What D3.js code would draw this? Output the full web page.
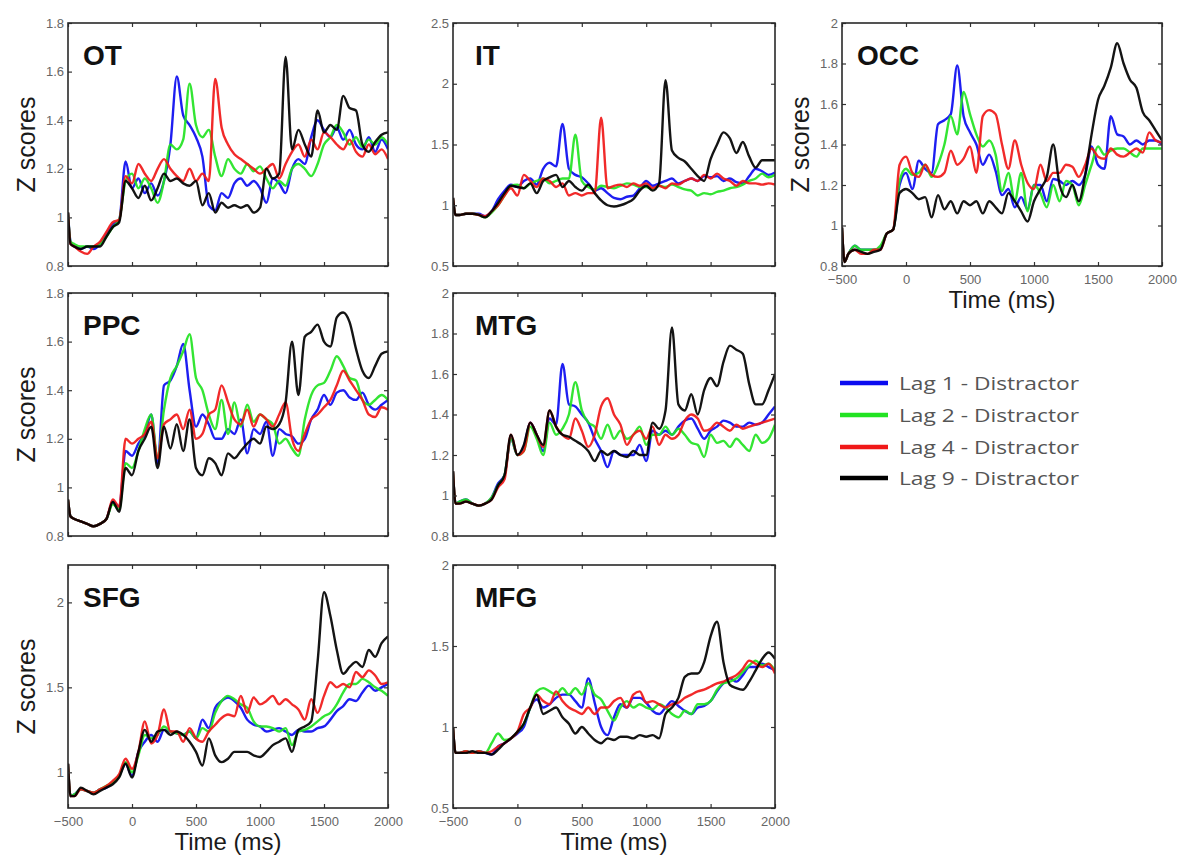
<!DOCTYPE html>
<html><head><meta charset="utf-8">
<script src="https://cdn.jsdelivr.net/npm/d3@7"></script>
<style>
html,body{margin:0;padding:0;background:#fff;}
svg{display:block;}
</style></head>
<body>
<svg id="chart" width="1184" height="855"></svg>
<script>
// ---------- DATA ----------
const timeMs = [-500,-480,-450,-400,-350,-300,-250,-200,-150,-100,-50,0,50,100,150,200,250,300,350,400,450,500,550,600,650,700,750,800,850,900,950,1000,1050,1100,1150,1200,1250,1300,1350,1400,1450,1500,1550,1600,1650,1700,1750,1800,1850,1900,1950,2000];
const xTicks = [-500,0,500,1000,1500,2000];
const seriesNames = ["Lag 1 - Distractor","Lag 2 - Distractor","Lag 4 - Distractor","Lag 9 - Distractor"];
const regionNames = ["OT","IT","OCC","PPC","MTG","SFG","MFG"];

// OT
const otLag1 = [1.02,0.9, 0.88,0.87,0.88,0.87,0.89,0.93,0.97,0.99,1.23,1.12, 1.16,1.1,1.14,1.09,1.15,1.3,1.58,1.42,1.38,1.33, 1.25,1.05,1.03,1.1,1.08,1.14,1.16,1.13,1.15,1.12, 1.06,1.16,1.14,1.1,1.2,1.24,1.22,1.33,1.4,1.36, 1.33,1.37,1.32,1.36,1.3,1.28,1.33,1.27,1.32,1.28];
const otLag2 = [1.02,0.9, 0.89,0.88,0.88,0.88,0.89,0.92,0.96,0.99,1.15,1.18, 1.12,1.16,1.12,1.06,1.15,1.3,1.28,1.32,1.55,1.38, 1.33,1.36,1.25,1.17,1.24,1.2,1.18,1.22,1.19,1.21, 1.16,1.12,1.15,1.13,1.2,1.22,1.2,1.17,1.22,1.3, 1.33,1.38,1.35,1.3,1.33,1.29,1.32,1.3,1.33,1.3];
const otLag4 = [1.02,0.89, 0.88,0.86,0.85,0.88,0.9,0.94,0.98,0.99,1.17,1.14, 1.22,1.18,1.15,1.2,1.24,1.2,1.17,1.15,1.2,1.15, 1.18,1.15,1.57,1.37,1.3,1.26,1.24,1.22,1.2,1.18, 1.2,1.22,1.16,1.22,1.27,1.3,1.25,1.32,1.28,1.35, 1.33,1.3,1.28,1.32,1.27,1.25,1.3,1.26,1.28,1.24];
const otLag9 = [1.02,0.89, 0.88,0.87,0.88,0.88,0.88,0.92,0.96,0.98,1.15,1.12, 1.08,1.13,1.07,1.12,1.18,1.15,1.16,1.14,1.13,1.15, 1.05,1.1,1.02,1.06,1.04,1.05,1.04,1.05,1.02,1.04, 1.2,1.16,1.18,1.66,1.28,1.36,1.3,1.25,1.44,1.35, 1.38,1.36,1.5,1.45,1.44,1.3,1.27,1.31,1.34,1.35];
// IT
const itLag1 = [1.06,0.92, 0.92,0.93,0.93,0.93,0.91,0.95,1.05,1.12,1.17,1.15, 1.2,1.22,1.17,1.3,1.35,1.32,1.67,1.3,1.25,1.23, 1.18,1.12,1.14,1.1,1.06,1.05,1.07,1.08,1.14,1.2, 1.16,1.18,1.2,1.22,1.18,1.2,1.22,1.2,1.24,1.23, 1.24,1.2,1.22,1.19,1.18,1.24,1.3,1.28,1.25,1.27];
const itLag2 = [1.06,0.92, 0.92,0.93,0.93,0.92,0.9,0.94,1.0,1.08,1.16,1.17, 1.14,1.18,1.2,1.22,1.18,1.2,1.22,1.22,1.58,1.2, 1.15,1.13,1.16,1.15,1.14,1.16,1.18,1.17,1.15,1.15, 1.13,1.16,1.15,1.17,1.15,1.13,1.12,1.08,1.1,1.09, 1.11,1.12,1.14,1.15,1.17,1.2,1.22,1.26,1.23,1.25];
const itLag4 = [1.06,0.92, 0.92,0.93,0.93,0.92,0.91,0.95,1.0,1.08,1.14,1.08, 1.25,1.2,1.15,1.22,1.2,1.15,1.18,1.08,1.1,1.08, 1.1,1.1,1.72,1.14,1.16,1.17,1.15,1.18,1.16,1.18, 1.14,1.16,1.14,1.18,1.17,1.2,1.22,1.2,1.25,1.22, 1.26,1.22,1.2,1.16,1.2,1.18,1.18,1.17,1.18,1.17];
const itLag9 = [1.06,0.92, 0.92,0.93,0.93,0.92,0.9,0.95,1.02,1.1,1.16,1.15, 1.14,1.18,1.1,1.2,1.23,1.25,1.15,1.2,1.15,1.12, 1.17,1.1,1.04,1.0,0.99,1.0,1.02,1.05,1.12,1.16, 1.12,1.18,2.03,1.45,1.39,1.36,1.3,1.24,1.2,1.38, 1.5,1.6,1.55,1.43,1.52,1.4,1.31,1.37,1.37,1.37];
// OCC
const occLag1 = [0.99,0.82, 0.86,0.9,0.88,0.88,0.88,0.89,0.96,0.98,1.2,1.26, 1.18,1.32,1.28,1.26,1.5,1.52,1.55,1.79,1.54,1.46, 1.4,1.3,1.35,1.27,1.15,1.18,1.09,1.14,1.08,1.2, 1.2,1.12,1.23,1.22,1.2,1.22,1.2,1.25,1.39,1.3, 1.28,1.54,1.45,1.44,1.4,1.42,1.4,1.42,1.42,1.4];
const occLag2 = [0.99,0.82, 0.86,0.9,0.88,0.88,0.88,0.9,0.96,0.98,1.22,1.28, 1.25,1.26,1.3,1.24,1.3,1.4,1.54,1.45,1.66,1.55, 1.45,1.39,1.42,1.35,1.17,1.26,1.12,1.26,1.07,1.2, 1.16,1.09,1.2,1.12,1.22,1.2,1.1,1.2,1.3,1.39, 1.35,1.37,1.38,1.38,1.36,1.34,1.38,1.38,1.38,1.38];
const occLag4 = [0.99,0.82, 0.86,0.88,0.86,0.86,0.88,0.88,0.96,0.98,1.3,1.34, 1.26,1.24,1.3,1.25,1.24,1.26,1.37,1.3,1.33,1.39, 1.26,1.54,1.57,1.55,1.4,1.28,1.42,1.3,1.21,1.18, 1.3,1.22,1.26,1.26,1.3,1.29,1.24,1.3,1.38,1.34, 1.33,1.38,1.35,1.34,1.36,1.38,1.36,1.46,1.42,1.41];
const occLag9 = [0.99,0.82, 0.86,0.88,0.87,0.86,0.87,0.88,0.96,0.98,1.16,1.18, 1.16,1.13,1.14,1.04,1.15,1.08,1.12,1.06,1.12,1.1, 1.12,1.06,1.12,1.09,1.06,1.16,1.12,1.07,1.02,1.12, 1.18,1.24,1.4,1.2,1.14,1.2,1.12,1.25,1.45,1.62, 1.69,1.78,1.9,1.8,1.72,1.68,1.56,1.52,1.47,1.42];
// PPC
const ppcLag1 = [0.95,0.88, 0.87,0.86,0.85,0.84,0.85,0.87,0.94,0.92,1.15,1.13, 1.18,1.22,1.3,1.1,1.42,1.44,1.5,1.59,1.4,1.25, 1.3,1.26,1.2,1.2,1.24,1.22,1.28,1.14,1.24,1.22, 1.27,1.13,1.24,1.22,1.21,1.18,1.2,1.28,1.32,1.38, 1.34,1.39,1.4,1.37,1.36,1.39,1.34,1.32,1.34,1.36];
const ppcLag2 = [0.95,0.88, 0.87,0.86,0.85,0.84,0.85,0.87,0.93,0.91,1.1,1.08, 1.15,1.24,1.3,1.12,1.32,1.45,1.5,1.56,1.63,1.45, 1.4,1.3,1.24,1.36,1.22,1.35,1.25,1.34,1.27,1.3, 1.28,1.26,1.18,1.2,1.16,1.13,1.28,1.38,1.42,1.43, 1.48,1.54,1.5,1.45,1.44,1.36,1.34,1.36,1.38,1.36];
const ppcLag4 = [0.95,0.88, 0.87,0.86,0.85,0.84,0.85,0.87,0.95,0.92,1.2,1.18, 1.2,1.22,1.27,1.12,1.26,1.28,1.3,1.24,1.32,1.2, 1.22,1.3,1.32,1.42,1.35,1.28,1.26,1.32,1.25,1.3, 1.28,1.25,1.3,1.35,1.2,1.15,1.22,1.28,1.3,1.33, 1.36,1.42,1.48,1.44,1.4,1.36,1.3,1.29,1.33,1.32];
const ppcLag9 = [0.95,0.88, 0.87,0.86,0.85,0.84,0.85,0.87,0.94,0.9,1.08,1.05, 1.15,1.2,1.25,1.08,1.25,1.16,1.26,1.15,1.28,1.08, 1.05,1.12,1.1,1.05,1.14,1.12,1.15,1.18,1.2,1.18, 1.25,1.24,1.26,1.35,1.6,1.38,1.62,1.64,1.67,1.6, 1.58,1.7,1.72,1.68,1.57,1.48,1.45,1.5,1.55,1.56];
// MTG
const mtgLag1 = [1.12,0.96, 0.97,0.98,0.96,0.95,0.96,0.99,1.06,1.1,1.28,1.2, 1.24,1.36,1.3,1.22,1.38,1.35,1.65,1.45,1.44,1.4, 1.36,1.28,1.22,1.14,1.22,1.2,1.2,1.2,1.25,1.17, 1.32,1.3,1.32,1.3,1.34,1.37,1.38,1.33,1.28,1.32, 1.34,1.37,1.36,1.34,1.34,1.36,1.35,1.36,1.4,1.44];
const mtgLag2 = [1.12,0.96, 0.97,0.98,0.96,0.95,0.96,0.99,1.05,1.1,1.28,1.2, 1.22,1.34,1.28,1.2,1.36,1.3,1.33,1.4,1.56,1.42, 1.36,1.34,1.28,1.35,1.28,1.32,1.28,1.3,1.34,1.25, 1.3,1.3,1.34,1.3,1.33,1.3,1.26,1.25,1.19,1.3, 1.26,1.27,1.24,1.28,1.25,1.22,1.3,1.26,1.28,1.35];
const mtgLag4 = [1.12,0.96, 0.96,0.97,0.96,0.95,0.96,0.98,1.04,1.08,1.3,1.2, 1.22,1.36,1.3,1.24,1.42,1.34,1.3,1.28,1.38,1.32, 1.24,1.3,1.44,1.48,1.4,1.35,1.25,1.3,1.32,1.28, 1.34,1.25,1.3,1.28,1.3,1.37,1.4,1.38,1.32,1.33, 1.36,1.34,1.32,1.35,1.33,1.34,1.35,1.36,1.37,1.38];
const mtgLag9 = [1.12,0.96, 0.96,0.97,0.96,0.95,0.96,0.98,1.05,1.1,1.3,1.2, 1.25,1.36,1.3,1.25,1.42,1.34,1.3,1.29,1.27,1.25, 1.22,1.17,1.22,1.2,1.22,1.2,1.19,1.22,1.2,1.2, 1.36,1.33,1.42,1.83,1.45,1.42,1.5,1.4,1.52,1.58, 1.54,1.66,1.74,1.72,1.7,1.55,1.45,1.45,1.52,1.6];
// SFG
const sfgLag1 = [1.05,0.86, 0.87,0.9,0.89,0.88,0.9,0.91,0.94,0.98,1.05,0.98, 1.12,1.18,1.22,1.18,1.25,1.24,1.23,1.22,1.24,1.2, 1.31,1.26,1.38,1.42,1.44,1.42,1.38,1.31,1.28,1.27, 1.24,1.25,1.26,1.24,1.22,1.25,1.24,1.24,1.26,1.27, 1.31,1.36,1.39,1.43,1.42,1.47,1.51,1.48,1.5,1.52];
const sfgLag2 = [1.05,0.86, 0.87,0.9,0.89,0.88,0.9,0.92,0.94,0.98,1.06,1.0, 1.1,1.22,1.2,1.22,1.27,1.24,1.23,1.22,1.24,1.2, 1.26,1.24,1.35,1.42,1.45,1.43,1.4,1.38,1.3,1.27, 1.27,1.26,1.24,1.26,1.16,1.24,1.25,1.27,1.3,1.33, 1.35,1.4,1.47,1.52,1.52,1.55,1.53,1.5,1.48,1.45];
const sfgLag4 = [1.05,0.86, 0.86,0.9,0.89,0.88,0.9,0.92,0.95,0.99,1.08,1.02, 1.12,1.3,1.17,1.22,1.37,1.24,1.24,1.18,1.26,1.2, 1.18,1.24,1.28,1.32,1.34,1.33,1.45,1.35,1.44,1.4, 1.42,1.45,1.4,1.43,1.4,1.37,1.31,1.43,1.35,1.45, 1.53,1.5,1.52,1.5,1.59,1.56,1.6,1.57,1.52,1.53];
const sfgLag9 = [1.05,0.86, 0.86,0.91,0.89,0.87,0.89,0.91,0.93,0.97,1.05,0.97, 1.12,1.25,1.18,1.24,1.25,1.22,1.24,1.22,1.18,1.12, 1.04,1.2,1.1,1.06,1.08,1.12,1.12,1.12,1.1,1.09, 1.12,1.16,1.18,1.2,1.12,1.25,1.27,1.3,1.65,2.06, 1.92,1.72,1.58,1.62,1.65,1.62,1.72,1.68,1.76,1.8];
// MFG
const mfgLag1 = [1.0,0.84, 0.84,0.85,0.84,0.85,0.84,0.83,0.88,0.9,0.93,0.96, 1.0,1.12,1.17,1.12,1.14,1.18,1.2,1.2,1.16,1.12, 1.3,1.15,1.0,0.95,1.06,1.14,1.12,1.18,1.18,1.15, 1.1,1.08,1.12,1.16,1.13,1.1,1.08,1.12,1.13,1.16, 1.22,1.27,1.3,1.28,1.32,1.37,1.37,1.39,1.37,1.35];
const mfgLag2 = [1.0,0.84, 0.84,0.85,0.84,0.85,0.84,0.9,0.96,0.92,0.93,0.97, 1.02,1.12,1.22,1.24,1.22,1.2,1.24,1.2,1.24,1.2, 1.27,1.2,1.17,1.1,1.04,1.12,1.16,1.12,1.14,1.12, 1.11,1.14,1.12,1.08,1.06,1.1,1.08,1.14,1.14,1.16, 1.23,1.27,1.28,1.3,1.34,1.38,1.41,1.38,1.39,1.35];
const mfgLag4 = [1.0,0.84, 0.84,0.85,0.84,0.85,0.84,0.85,0.88,0.9,0.93,0.97, 1.08,1.12,1.2,1.16,1.14,1.22,1.16,1.12,1.1,1.08, 1.12,1.08,1.12,1.12,1.16,1.18,1.12,1.2,1.22,1.15, 1.16,1.14,1.12,1.14,1.15,1.18,1.2,1.22,1.23,1.25, 1.27,1.28,1.3,1.32,1.36,1.41,1.39,1.37,1.39,1.33];
const mfgLag9 = [1.0,0.84, 0.84,0.84,0.85,0.84,0.84,0.83,0.86,0.9,0.93,0.97, 1.02,1.12,1.2,1.08,1.1,1.12,1.06,1.02,0.96,1.0, 0.96,0.92,0.9,0.93,0.92,0.94,0.94,0.93,0.95,0.94, 0.95,0.93,1.08,1.12,1.18,1.31,1.33,1.33,1.4,1.56, 1.65,1.4,1.26,1.24,1.23,1.28,1.35,1.42,1.46,1.42];

// y axis domains and ticks per region
const yDomains = [[0.8,1.8],[0.5,2.5],[0.8,2],[0.8,1.8],[0.8,2],[0.79,2.22],[0.5,2]];
const yTicks = [
  [0.8,1,1.2,1.4,1.6,1.8],
  [0.5,1,1.5,2,2.5],
  [0.8,1,1.2,1.4,1.6,1.8,2],
  [0.8,1,1.2,1.4,1.6,1.8],
  [0.8,1,1.2,1.4,1.6,1.8,2],
  [1,1.5,2],
  [0.5,1,1.5,2]
];
const regionSeries = [
  [otLag1,otLag2,otLag4,otLag9],
  [itLag1,itLag2,itLag4,itLag9],
  [occLag1,occLag2,occLag4,occLag9],
  [ppcLag1,ppcLag2,ppcLag4,ppcLag9],
  [mtgLag1,mtgLag2,mtgLag4,mtgLag9],
  [sfgLag1,sfgLag2,sfgLag4,sfgLag9],
  [mfgLag1,mfgLag2,mfgLag4,mfgLag9]
];

// ---------- LAYOUT / STYLE ----------
const colors = ["#0b0bf0","#22e322","#f01818","#000000"];
const colX = [[68,388],[453,775],[842,1162]];
const rowY = [[23,266],[293,536],[565,808]];
const layout = [ // col,row,showXTicks,showYLabel,titleDx
  {c:0,r:0,xt:false,yl:true,tdx:15},
  {c:1,r:0,xt:false,yl:false,tdx:22},
  {c:2,r:0,xt:true,yl:true,tdx:15},
  {c:0,r:1,xt:false,yl:true,tdx:15},
  {c:1,r:1,xt:false,yl:false,tdx:22},
  {c:0,r:2,xt:true,yl:true,tdx:15},
  {c:1,r:2,xt:true,yl:false,tdx:22}
];

const svg = d3.select("#chart");
const fmt = d => String(+d.toFixed(2));
const FONT = "'Liberation Sans', Arial, Helvetica, sans-serif";

regionNames.forEach((name, k) => {
  const L = layout[k];
  const [x0,x1] = colX[L.c], [y0,y1] = rowY[L.r];
  const x = d3.scaleLinear().domain([-500,2000]).range([x0,x1]);
  const y = d3.scaleLinear().domain(yDomains[k]).range([y1,y0]);
  const g = svg.append("g");

  const clipId = "clip"+k;
  svg.append("clipPath").attr("id",clipId).append("rect")
    .attr("x",x0).attr("y",y0).attr("width",x1-x0).attr("height",y1-y0);

  // lines
  const line = d3.line().x((d,i)=>x(timeMs[i])).y(d=>y(d)).curve(d3.curveMonotoneX);
  const lg = g.append("g").attr("clip-path",`url(#${clipId})`);
  regionSeries[k].forEach((vals, s) => {
    lg.append("path").datum(vals).attr("d", line)
      .attr("fill","none").attr("stroke",colors[s]).attr("stroke-width",2.4)
      .attr("stroke-linejoin","round").attr("stroke-opacity",0.92);
  });

  // axes with inner ticks on all sides
  const tl = 4;
  const axB = d3.axisBottom(x).tickValues(xTicks).tickSize(-tl).tickPadding(9).tickFormat(L.xt ? d3.format("d") : "");
  const axT = d3.axisTop(x).tickValues(xTicks).tickSize(-tl).tickFormat("");
  const axL = d3.axisLeft(y).tickValues(yTicks[k]).tickSize(-tl).tickPadding(4).tickFormat(fmt);
  const axR = d3.axisRight(y).tickValues(yTicks[k]).tickSize(-tl).tickFormat("");
  const styleAx = sel => {
    sel.select(".domain").remove();
    sel.selectAll(".tick line").attr("stroke","#333").attr("stroke-width",1.2);
    sel.selectAll(".tick text").attr("fill","#666").style("font-family",FONT).style("font-size","13px");
  };
  g.append("g").attr("transform",`translate(0,${y1})`).call(axB).call(styleAx);
  g.append("g").attr("transform",`translate(0,${y0})`).call(axT).call(styleAx);
  g.append("g").attr("transform",`translate(${x0},0)`).call(axL).call(styleAx);
  g.append("g").attr("transform",`translate(${x1},0)`).call(axR).call(styleAx);

  // frame
  g.append("rect").attr("x",x0).attr("y",y0).attr("width",x1-x0).attr("height",y1-y0)
    .attr("fill","none").attr("stroke","#2a2a2a").attr("stroke-width",1.6);

  // title
  g.append("text").attr("x",x0+L.tdx).attr("y",y0+42).text(name)
    .style("font-family",FONT).style("font-weight","bold").style("font-size","28px").attr("fill","#111");

  if (L.yl) {
    g.append("text").attr("transform",`translate(${x0-42},${(y0+y1)/2}) rotate(-90)`)
      .attr("text-anchor","middle").attr("dy","0.35em").text("Z scores")
      .style("font-family",FONT).style("font-size","25px").attr("fill","#1a1a1a");
  }
  if (L.xt) {
    g.append("text").attr("x",(x0+x1)/2).attr("y",y1+42).attr("text-anchor","middle")
      .text("Time (ms)").style("font-family",FONT).style("font-size","24px").attr("fill","#1a1a1a");
  }
});

// legend
const legY = [383,415,447,478];
const leg = svg.append("g");
seriesNames.forEach((n,i) => {
  leg.append("line").attr("x1",840).attr("x2",888).attr("y1",legY[i]).attr("y2",legY[i])
    .attr("stroke",colors[i]).attr("stroke-width",4.5);
  leg.append("text").attr("x",899).attr("y",legY[i]+7).text(n)
    .attr("textLength",180).attr("lengthAdjust","spacingAndGlyphs")
    .style("font-family","'Open Sans', 'Noto Sans', sans-serif").style("font-size","19px").attr("fill","#555");
});
</script>
</body></html>
